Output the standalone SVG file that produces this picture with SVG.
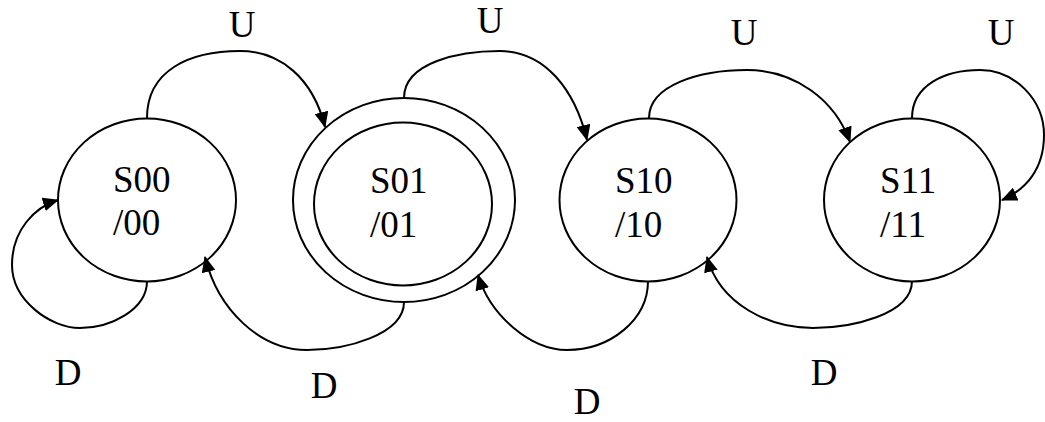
<svg xmlns="http://www.w3.org/2000/svg" width="1045" height="422" viewBox="0 0 1045 422">
<defs>
<style>
.st{fill:none;stroke:#000;stroke-width:2}
.t{font-family:"Liberation Serif","Times New Roman",serif;font-size:37px;fill:#000}
.lbl{font-family:"Liberation Serif","Times New Roman",serif;font-size:37px;fill:#000;text-anchor:middle}
.e{fill:none;stroke:#000;stroke-width:2;marker-end:url(#arr)}
</style>
<marker id="arr" viewBox="0 0 16 14" refX="15" refY="7" markerWidth="16" markerHeight="14" markerUnits="userSpaceOnUse" orient="auto">
<path d="M0,0 L16,7 L0,14 Z" fill="#000"/>
</marker>
</defs>
<rect width="1045" height="422" fill="#fff"/>
<g id="connectors">
<path class="e" d="M147,118 C147,70 190,51 240,51 C280,51 313,78 325,127"/>
<path class="e" d="M147,281 C147,310 110,328 80,328 C50,328 12,300 12,265 C12,230 35,207 58,200"/>
<path class="e" d="M404,302 C404,335 345,350 307,350 C260,350 218,310 205,257"/>
<path class="e" d="M404,98 C404,62 460,51 500,51 C545,51 575,90 587,140"/>
<path class="e" d="M648,281 C648,320 610,350 567,350 C530,350 490,315 478,275"/>
<path class="e" d="M649,118 C649,85 700,70 747,70 C795,70 835,100 850,142"/>
<path class="e" d="M912,118 C912,85 945,70 980,70 C1015,70 1044,100 1044,135 C1044,170 1025,190 1002,200"/>
<path class="e" d="M912,281 C912,315 850,328 813,328 C770,328 720,305 707,257"/>
<text class="lbl" x="242" y="37">U</text>
<text class="lbl" x="490" y="33">U</text>
<text class="lbl" x="744" y="45">U</text>
<text class="lbl" x="1001" y="45">U</text>
<text class="lbl" x="68" y="385">D</text>
<text class="lbl" x="324" y="398">D</text>
<text class="lbl" x="587" y="414">D</text>
<text class="lbl" x="824" y="385">D</text>
</g>
<g id="S00">
<ellipse class="st" cx="147" cy="200" rx="89" ry="81.5"/>
<text class="t" x="113" y="192">S00</text>
<text class="t" x="113" y="235">/00</text>
</g>
<g id="S01">
<ellipse class="st" cx="404" cy="200" rx="111" ry="102"/>
<ellipse class="st" cx="403" cy="204" rx="89" ry="81.5"/>
<text class="t" x="370" y="193">S01</text>
<text class="t" x="370" y="237">/01</text>
</g>
<g id="S10">
<ellipse class="st" cx="648" cy="200" rx="88.5" ry="81.5"/>
<text class="t" x="615" y="193">S10</text>
<text class="t" x="615" y="237">/10</text>
</g>
<g id="S11">
<ellipse class="st" cx="912" cy="200" rx="88" ry="81.5"/>
<text class="t" x="880" y="193">S11</text>
<text class="t" x="880" y="237">/11</text>
</g>
</svg>
